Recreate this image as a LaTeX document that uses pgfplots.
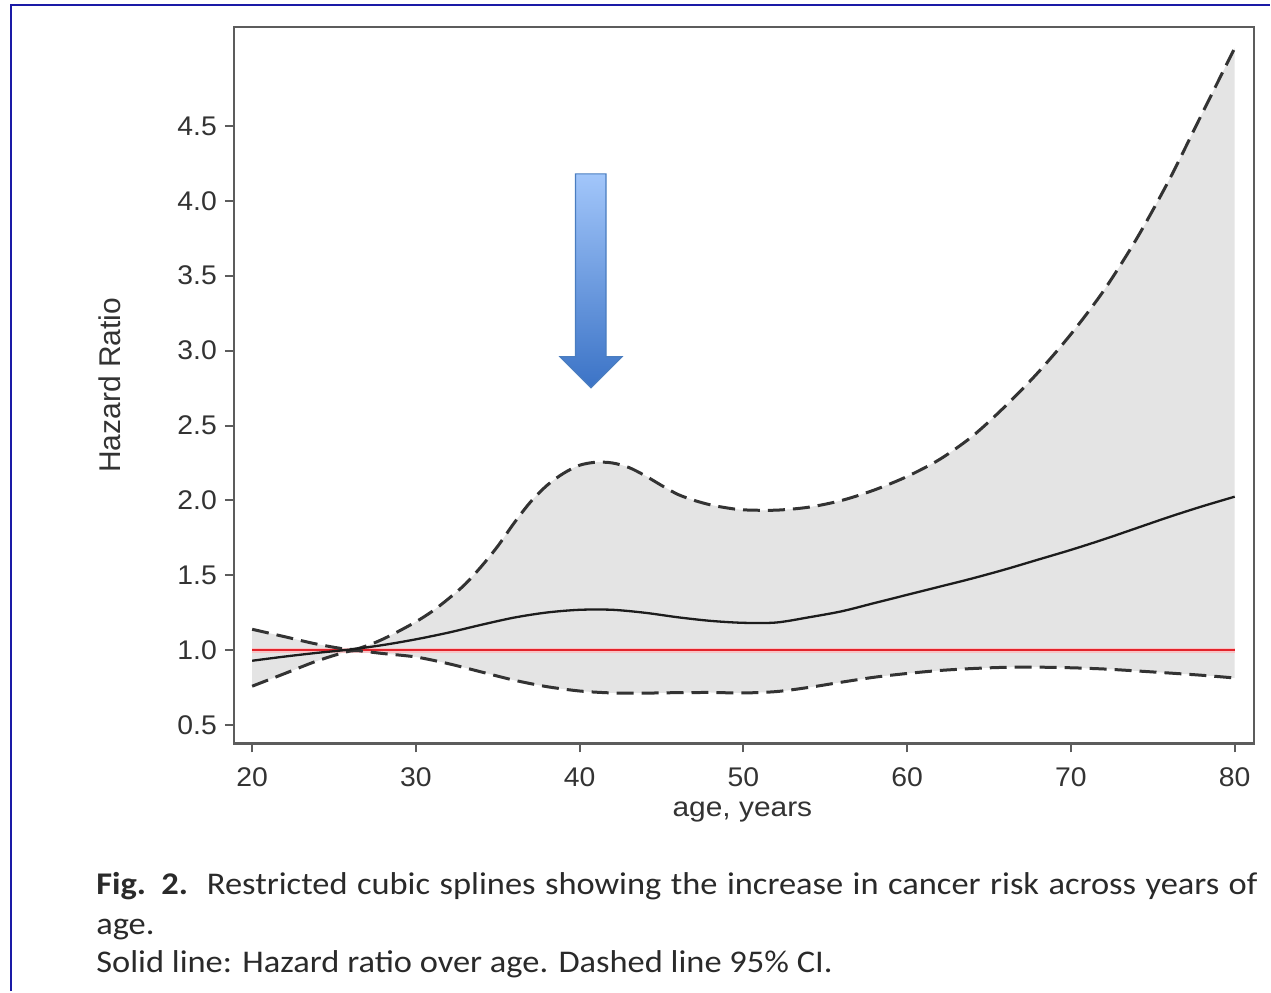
\documentclass[border=0pt]{standalone}
\usepackage{pgfplots}
\pgfplotsset{compat=1.18}
\usepgfplotslibrary{fillbetween}
\usepackage{pgfplotstable}
\usepackage{fontspec}
\setmainfont{Liberation Sans}
\newfontfamily\axisfont[FakeStretch=1.05]{Liberation Sans}
\newfontfamily\titlefont[FakeStretch=1.10]{Liberation Sans}
\newfontfamily\capfont[FakeStretch=1.09]{Carlito}
\definecolor{frameblue}{HTML}{1A1AA6}
\definecolor{axisgray}{HTML}{5C5C5C}
\definecolor{ticktext}{HTML}{333333}
\definecolor{bandfill}{HTML}{E4E4E4}
\definecolor{dashcol}{HTML}{333333}
\definecolor{solidcol}{HTML}{1C1C1C}
\definecolor{refred}{HTML}{E3242B}
\definecolor{refpink}{HTML}{F7C4C6}
\definecolor{arrowtop}{HTML}{A2C6FA}
\definecolor{arrowbot}{HTML}{3B73C6}
\definecolor{arrowedge}{HTML}{4A7DC0}
\definecolor{captext}{HTML}{2A2A2A}

\pgfplotstableread{
x y
20 1.14
22 1.09
24 1.04
26 1.005
27 1.03
28 1.075
29 1.13
30 1.19
31 1.26
32 1.345
33 1.44
34 1.56
35 1.695
36 1.85
37 1.99
38 2.10
39 2.18
40 2.235
41 2.255
42 2.25
43 2.22
44 2.165
45 2.10
46 2.04
47 2.00
48 1.97
49 1.95
50 1.937
52 1.935
54 1.955
56 2.00
58 2.07
60 2.16
62 2.275
64 2.43
66 2.63
68 2.855
70 3.11
72 3.40
74 3.745
76 4.14
78 4.58
80 5.02
}\uppertab

\pgfplotstableread{
x y
20 0.76
22 0.845
24 0.93
26 0.995
27 0.99
28 0.978
30 0.955
32 0.91
34 0.855
36 0.80
38 0.757
40 0.728
42 0.715
44 0.714
46 0.717
48 0.718
50 0.715
52 0.724
54 0.752
56 0.787
58 0.82
60 0.845
62 0.865
64 0.878
66 0.886
68 0.887
70 0.883
72 0.875
74 0.862
76 0.848
78 0.833
80 0.815
}\lowertab

\pgfplotstableread{
x y
20 0.93
22 0.958
24 0.983
26 1.005
28 1.035
30 1.073
32 1.118
34 1.17
36 1.218
38 1.252
40 1.27
42 1.27
44 1.25
46 1.22
48 1.196
50 1.183
52 1.185
54 1.22
56 1.26
58 1.315
60 1.37
62 1.425
64 1.48
66 1.54
68 1.605
70 1.67
72 1.74
74 1.815
76 1.89
78 1.96
80 2.025
}\meantab

\begin{document}
\begin{tikzpicture}
\path (0pt,0pt) rectangle (635.5pt,-496pt);
\draw[frameblue, line width=1pt] (5.5pt,-496pt) -- (5.5pt,-2.5pt) -- (635.5pt,-2.5pt);
\begin{axis}[
  at={(117pt,-372pt)}, anchor=south west,
  scale only axis, width=510.5pt, height=358.5pt,
  xmin=18.88, xmax=81.18, ymin=0.378, ymax=5.16,
  axis line style={axisgray, line width=1.1pt},
  tick style={axisgray, line width=1pt},
  major tick length=4.5pt, tick align=outside, tick pos=left,
  xtick={20,30,40,50,60,70,80},
  ytick={0.5,1,1.5,2,2.5,3,3.5,4,4.5},
  /pgf/number format/assume math mode=true,
  tick label style={font=\axisfont\fontsize{13.5}{15}\selectfont, text=ticktext},
  xticklabel style={yshift=-4.3pt},
  yticklabel style={xshift=-0.5pt, /pgf/number format/.cd, fixed, fixed zerofill, precision=1},
  xlabel={age, years},
  xlabel style={at={(axis description cs:0.4985,-0.1025)}, anchor=base, inner sep=0pt, font=\titlefont\fontsize{13.6}{15}\selectfont, text=ticktext},
  ylabel={Hazard Ratio},
  ylabel style={at={(axis description cs:-0.1215,0.5)}, anchor=center, font=\fontsize{15}{17}\selectfont, text=ticktext},
]
\addplot[draw=none, name path=up, smooth, tension=0.5, forget plot] table {\uppertab};
\addplot[draw=none, name path=lo, smooth, tension=0.5, forget plot] table {\lowertab};
\addplot[bandfill, draw=none] fill between[of=up and lo];
\addplot[refpink, line width=2.6pt] coordinates {(20,1) (80,1)};
\addplot[refred, line width=1pt] coordinates {(20,1) (80,1)};
\addplot[dashcol, line width=1.5pt, dash pattern=on 8.5pt off 4pt, smooth, tension=0.5] table {\uppertab};
\addplot[dashcol, line width=1.5pt, dash pattern=on 8.5pt off 4pt, smooth, tension=0.5] table {\lowertab};
\addplot[solidcol, line width=1.15pt, smooth, tension=0.5] table {\meantab};
\end{axis}
\begin{scope}[x=0.5pt, y=-0.5pt]
\path[shade, top color=arrowtop, bottom color=arrowbot]
  (576,174) -- (606.5,174) -- (606.5,357) -- (622.5,357) -- (591.5,388) -- (560.5,357) -- (576,357) -- cycle;
\draw[arrowedge, line width=0.6pt, line join=miter]
  (576,174) -- (606.5,174) -- (606.5,357) -- (622.5,357) -- (591.5,388) -- (560.5,357) -- (576,357) -- cycle;
\node[anchor=base west, inner sep=0pt, text=captext, font=\capfont\fontsize{15.8}{18}\selectfont] at (96,895)
  {\makebox[581pt][s]{\textbf{Fig. 2.}\ \ Restricted cubic splines showing the increase in cancer risk across years of}};
\node[anchor=base west, inner sep=0pt, text=captext, font=\capfont\fontsize{15.8}{18}\selectfont] at (96,935) {age.};
\node[anchor=base west, inner sep=0pt, text=captext, font=\capfont\fontsize{15.8}{18}\selectfont] at (96,973) {Solid line: Hazard ratio over age. Dashed line 95\% CI.};
\end{scope}
\end{tikzpicture}
\end{document}
